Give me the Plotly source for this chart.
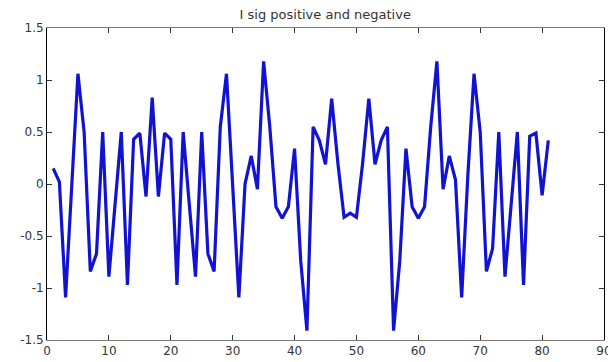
import plotly.graph_objects as go

title_text = "I sig positive and negative"

x_vals = list(range(1, 82))
y_vals = [
    0.15, 0.02, -1.09, 0.03, 1.06, 0.50, -0.84, -0.67, 0.50, -0.89,
    -0.20, 0.50, -0.97, 0.43, 0.49, -0.12, 0.83, -0.12, 0.49, 0.43,
    -0.97, 0.50, -0.20, -0.89, 0.50, -0.67, -0.84, 0.55, 1.06, 0.02,
    -1.09, 0.00, 0.27, -0.05, 1.18, 0.55, -0.22, -0.33, -0.22, 0.34,
    -0.74, -1.41, 0.55, 0.42, 0.19, 0.82, 0.20, -0.32, -0.28, -0.32,
    0.20, 0.82, 0.19, 0.42, 0.55, -1.41, -0.74, 0.34, -0.22, -0.33,
    -0.22, 0.55, 1.18, -0.05, 0.27, 0.04, -1.09, 0.08, 1.06, 0.50,
    -0.84, -0.62, 0.50, -0.89, -0.20, 0.50, -0.97, 0.46, 0.49, -0.11,
    0.42,
]

x_ticks = [0, 10, 20, 30, 40, 50, 60, 70, 80, 90]
x_tick_labels = ["0", "10", "20", "30", "40", "50", "60", "70", "80", "90"]
y_ticks = [-1.5, -1, -0.5, 0, 0.5, 1, 1.5]
y_tick_labels = ["-1.5", "-1", "-0.5", "0", "0.5", "1", "1.5"]

fig = go.Figure()
fig.add_trace(go.Scatter(
    x=x_vals, y=y_vals, mode="lines",
    line=dict(color="rgb(18,18,210)", width=3.2),
    showlegend=False,
))

# The page body has an 8px default margin, so margins are offset to compensate.
fig.update_layout(
    width=616, height=362,
    margin=dict(l=36, r=15, t=20, b=25),
    paper_bgcolor="white", plot_bgcolor="white",
    font=dict(family="DejaVu Sans, Liberation Sans, sans-serif", size=12, color="#333"),
    title=dict(text=title_text, x=0.515, xanchor="center", xref="container",
               y=0.983, yanchor="middle", yref="container",
               font=dict(size=13, color="#333")),
)
fig.update_xaxes(
    range=[0, 90], tickvals=x_ticks, ticktext=x_tick_labels,
    showgrid=False, zeroline=False,
    showline=True, linecolor="#777", linewidth=1, mirror="allticks",
    ticks="inside", ticklen=5, tickcolor="#333",
)
fig.update_yaxes(
    range=[-1.5, 1.5], tickvals=y_ticks, ticktext=y_tick_labels,
    showgrid=False, zeroline=False,
    showline=True, linecolor="black", linewidth=1, mirror="allticks",
    ticks="inside", ticklen=5, tickcolor="#333",
)

fig.write_html("out.html")
